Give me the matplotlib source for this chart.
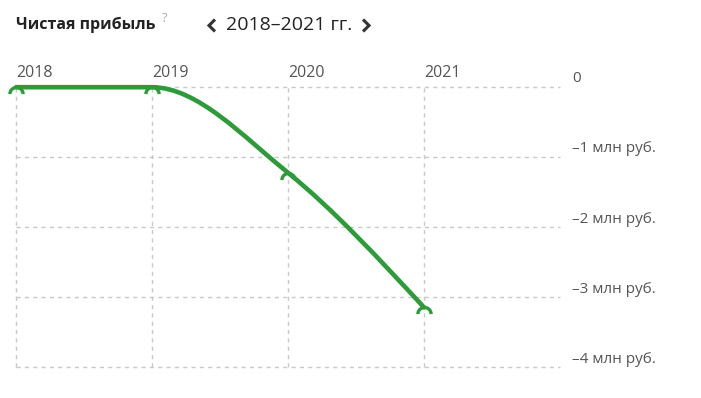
import numpy as np
import matplotlib
matplotlib.use("Agg")
import matplotlib.pyplot as plt
from matplotlib.path import Path
from matplotlib.patches import PathPatch
from matplotlib.lines import Line2D

# данные
years = [2018, 2019, 2020, 2021]
profit = [-0.01, -0.01, -1.23, -3.15]  # млн руб.
y_ticks = [0, -1, -2, -3, -4]
y_labels = ["0", "–1 млн руб.", "–2 млн руб.", "–3 млн руб.", "–4 млн руб."]

GREEN = "#2e9b3a"
GRID = "#c9c9c9"
W, H = 701, 398

plt.rcParams['font.family'] = ['Open Sans', 'DejaVu Sans']


def monotone_path(xs, ys):
    # кривая как у d3.curveMonotoneX
    xs = np.asarray(xs, float)
    ys = np.asarray(ys, float)
    h = np.diff(xs)
    s = np.diff(ys) / h
    n = len(xs)
    t = np.zeros(n)
    for i in range(1, n - 1):
        p = (s[i - 1] * h[i] + s[i] * h[i - 1]) / (h[i - 1] + h[i])
        t[i] = (np.sign(s[i - 1]) + np.sign(s[i])) * min(abs(s[i - 1]), abs(s[i]), 0.5 * abs(p))
    t[0] = (3 * s[0] - t[1]) / 2
    t[-1] = (3 * s[-1] - t[-2]) / 2
    verts = [(xs[0], ys[0])]
    codes = [Path.MOVETO]
    for i in range(n - 1):
        dx = h[i] / 3
        verts += [(xs[i] + dx, ys[i] + t[i] * dx),
                  (xs[i + 1] - dx, ys[i + 1] - t[i + 1] * dx),
                  (xs[i + 1], ys[i + 1])]
        codes += [Path.CURVE4] * 3
    return Path(verts, codes)


fig = plt.figure(figsize=(W / 100, H / 100), dpi=100)
left, right = 16, 560
top, bottom = 86.5, 367
ax = fig.add_axes([left / W, 1 - bottom / H, (right - left) / W, (bottom - top) / H])
ax.set_xlim(2018, 2022)
ax.set_ylim(-4, 0)
for sp in ax.spines.values():
    sp.set_visible(False)
ax.set_xticks([])
ax.set_yticks([])

for yv in y_ticks:
    ax.plot([2018, 2022], [yv, yv], color=GRID, lw=1, ls=(0, (3, 3)), zorder=1, clip_on=False)
for xv in years:
    ax.plot([xv, xv], [-4, 0], color=GRID, lw=1, ls=(0, (3, 3)), zorder=1, clip_on=False)

ax.add_patch(PathPatch(monotone_path(years, profit), fill=False, edgecolor=GREEN,
                       lw=3.3, capstyle='round', zorder=3, clip_on=False))

# маркеры-полукруги (верх дуги в точке данных)
ang = np.linspace(0, np.pi, 25)
arc = Path(np.column_stack([np.cos(ang), np.sin(ang) - 1.0]))
ax.plot(years, profit, ls='none', marker=arc, markersize=9.5, markerfacecolor='none',
        markeredgecolor=GREEN, markeredgewidth=2.4, zorder=4, clip_on=False)

for xv in years:
    ax.annotate(str(xv), (xv, 0), xytext=(0, 4), textcoords='offset points',
                fontsize=11.5, color="#555555", ha='left', va='bottom', annotation_clip=False)

for yv, lab in zip(y_ticks, y_labels):
    ax.annotate(lab, (2022, yv), xytext=(9, 5.5), textcoords='offset points',
                fontsize=11, color="#555555", ha='left', va='center', annotation_clip=False)

# заголовок
fig.text(16 / W, 1 - 25 / H, "Чистая прибыль", fontsize=11.5, fontweight='bold',
         color="#222222", ha='left', va='center')
fig.text(162 / W, 1 - 19 / H, "?", fontsize=9, color="#aaaaaa", ha='left', va='center')
fig.text(226 / W, 1 - 25 / H, "2018–2021 гг.", fontsize=14, color="#222222",
         ha='left', va='center')
for cx, d in [(209, 1), (369, -1)]:
    fig.add_artist(Line2D([(cx + 6 * d) / W, cx / W, (cx + 6 * d) / W],
                          [1 - 19.5 / H, 1 - 25.5 / H, 1 - 31.5 / H],
                          color="#333333", lw=2.2, solid_capstyle='butt',
                          solid_joinstyle='miter'))

fig.savefig("out.png", dpi=100)
